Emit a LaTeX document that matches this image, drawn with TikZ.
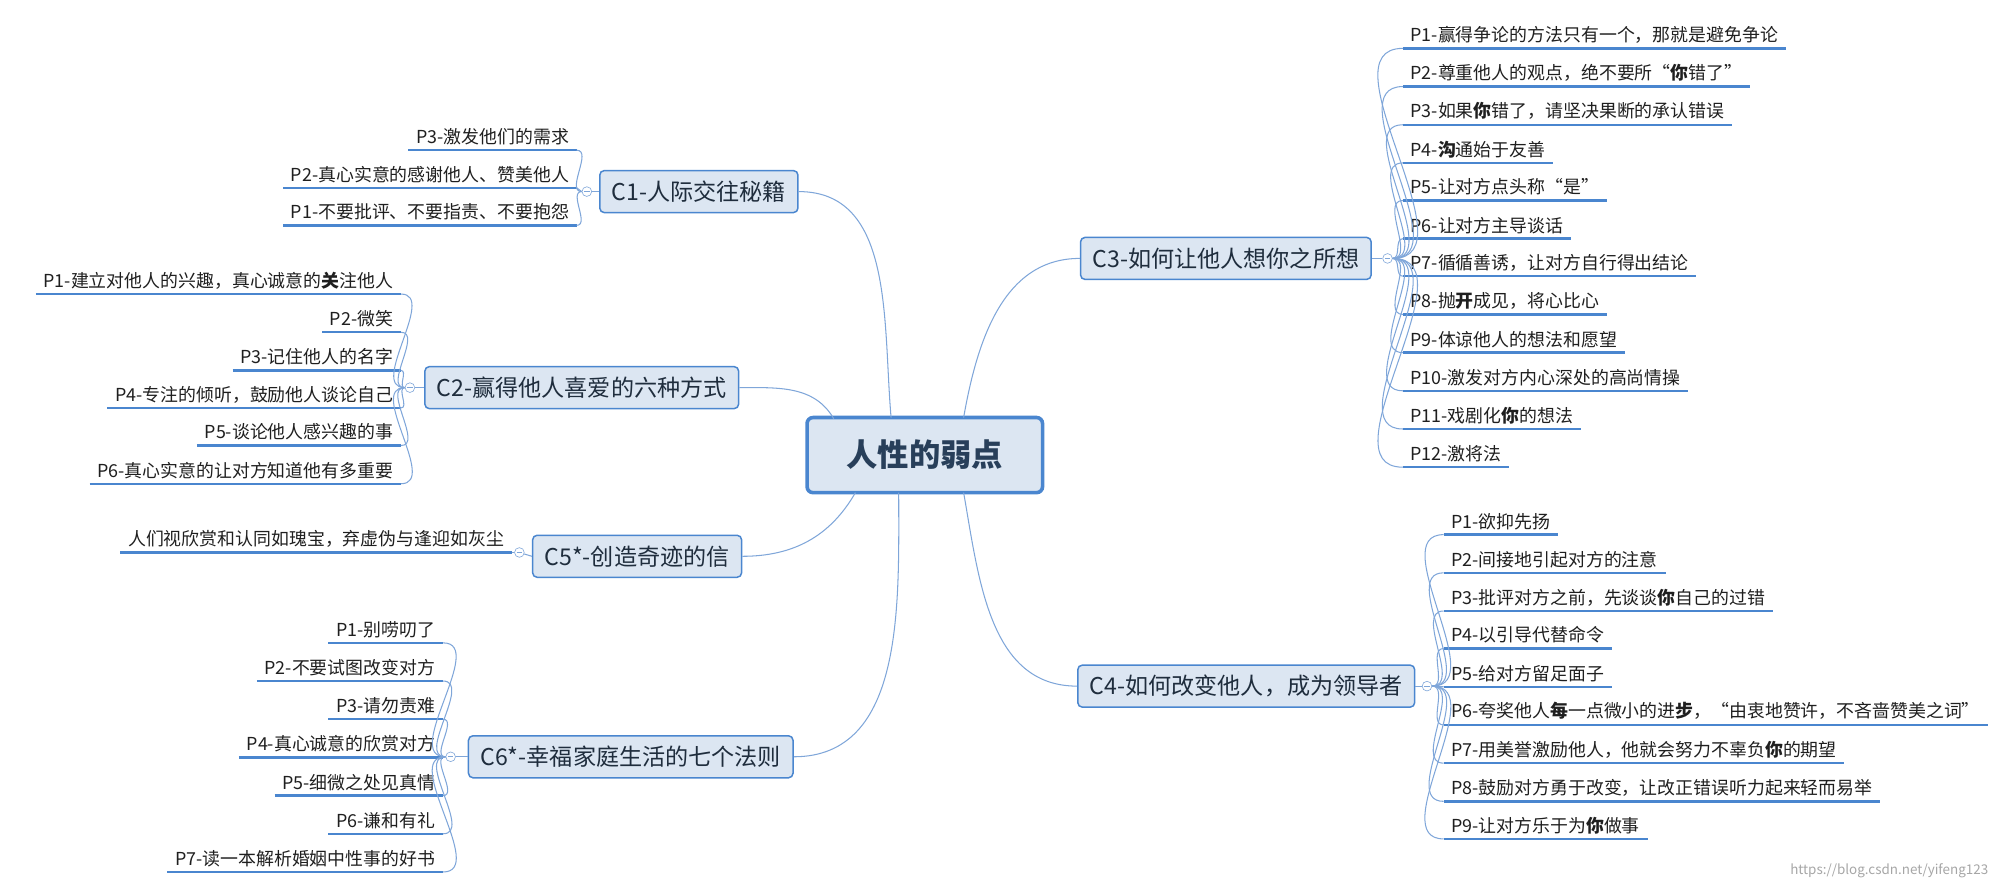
\documentclass[tikz,border=0pt]{standalone}
\usepackage{fontspec}
\setmainfont{Noto Sans CJK SC}
\usetikzlibrary{positioning}
\definecolor{mmline}{HTML}{4A86CF}
\definecolor{mmthin}{HTML}{7FA6D9}
\definecolor{mmfill}{HTML}{DCE6F2}
\definecolor{mmtext}{HTML}{1F2D3D}
\tikzset{
  root/.style={draw=mmline, line width=2.4pt, fill=mmfill, rounded corners=4pt,
    minimum width=185*0.03cm, minimum height=59*0.03cm, font=\fontsize{21}{24}\selectfont\bfseries, text=mmtext!80!mmline},
  topic/.style={draw=mmline, line width=1pt, fill=mmfill, rounded corners=3pt,
    minimum height=33*0.03cm, inner xsep=8pt, font=\fontsize{15.5}{18}\selectfont, text=mmtext},
  leaf/.style={inner xsep=5pt, inner ysep=3.2pt, font=\fontsize{12}{14}\selectfont, text=black!88,
    append after command={(\tikzlastnode.south west) edge[uline] (\tikzlastnode.south east)}},
  uline/.style={draw=mmline, line width=1.6pt},
  fold/.style={circle, draw=mmthin, fill=white, inner sep=0pt, minimum size=6.5pt,
    path picture={\draw[mmthin] (-1.8pt,0) -- (1.8pt,0);}},
  link/.style={draw=mmthin, line width=0.7pt}
}
\begin{document}
\begin{tikzpicture}[x=0.03cm, y=-0.03cm]
            \useasboundingbox (0,0) rectangle (1568,697);
            % Root
            \node[root] (root) at (726.5,357.5) {人性的弱点};

            % Topics
            \node[topic] (c1) at (549,150.5) {C1-人际交往秘籍};
            \node[topic] (c2) at (457,304.5) {C2-赢得他人喜爱的六种方式};
            \node[topic] (c5) at (500.5,437) {C5*-创造奇迹的信};
            \node[topic] (c6) at (495.5,594.5) {C6*-幸福家庭生活的七个法则};
            \node[topic] (c3) at (963,203) {C3-如何让他人想你之所想};
            \node[topic] (c4) at (979,539) {C4-如何改变他人，成为领导者};

            % Root to topics
            \draw[link] (c1.east) to[out=0,in=95] (700,328);
            \draw[link] (c2.east) to[out=0,in=120] (655,329);
            \draw[link] (c5.east) to[out=0,in=-120] (672,387);
            \draw[link] (c6.east) to[out=0,in=-90] (706,387);
            \draw[link] (c3.west) to[out=180,in=80] (757,328);
            \draw[link] (c4.west) to[out=180,in=-80] (757,387);

            % Fold markers
            \node[fold] (f1) at (461,150.5) {};
            \node[fold] (f2) at (322,304.5) {};
            \node[fold] (f5) at (408,434) {};
            \node[fold] (f6) at (354,594.5) {};
            \node[fold] (f3) at (1090,203) {};
            \node[fold] (f4) at (1121,539) {};
            \draw[link] (c1.west) -- (f1);
            \draw[link] (c2.west) -- (f2);
            \draw[link] (c5.west) -- (f5);
            \draw[link] (c6.west) -- (f6);
            \draw[link] (c3.east) -- (f3);
            \draw[link] (c4.east) -- (f4);

            % C1 leaves
            \node[leaf, anchor=south east] (c1p3) at (453,118) {P3-激发他们的需求};
            \node[leaf, anchor=south east] (c1p2) at (453,147.5) {P2-真心实意的感谢他人、赞美他人};
            \node[leaf, anchor=south east] (c1p1) at (453,177) {P1-不要批评、不要指责、不要抱怨};

            % C2 leaves
            \node[leaf, anchor=south east] (c2p1) at (315,231) {P1-建立对他人的兴趣，真心诚意的\textbf{关}注他人};
            \node[leaf, anchor=south east] (c2p2) at (315,261) {P2-微笑};
            \node[leaf, anchor=south east] (c2p3) at (315,291) {P3-记住他人的名字};
            \node[leaf, anchor=south east] (c2p4) at (315,320.5) {P4-专注的倾听，鼓励他人谈论自己};
            \node[leaf, anchor=south east] (c2p5) at (315,350) {P5-谈论他人感兴趣的事};
            \node[leaf, anchor=south east] (c2p6) at (315,380) {P6-真心实意的让对方知道他有多重要};

            % C5 leaf
            \node[leaf, anchor=south east] (c5p1) at (402,434) {人们视欣赏和认同如瑰宝，弃虚伪与逢迎如灰尘};

            % C6 leaves
            \node[leaf, anchor=south east] (c6p1) at (348,505) {P1-别唠叨了};
            \node[leaf, anchor=south east] (c6p2) at (348,535) {P2-不要试图改变对方};
            \node[leaf, anchor=south east] (c6p3) at (348,565) {P3-请勿责难};
            \node[leaf, anchor=south east] (c6p4) at (348,595) {P4-真心诚意的欣赏对方};
            \node[leaf, anchor=south east] (c6p5) at (348,625) {P5-细微之处见真情};
            \node[leaf, anchor=south east] (c6p6) at (348,655) {P6-谦和有礼};
            \node[leaf, anchor=south east] (c6p7) at (348,685) {P7-读一本解析婚姻中性事的好书};

            % C3 leaves
            \node[leaf, anchor=south west] (c3p1) at (1102,38) {P1-赢得争论的方法只有一个，那就是避免争论};
            \node[leaf, anchor=south west] (c3p2) at (1102,68) {P2-尊重他人的观点，绝不要所“\textbf{你}错了”};
            \node[leaf, anchor=south west] (c3p3) at (1102,98) {P3-如果\textbf{你}错了，请坚决果断的承认错误};
            \node[leaf, anchor=south west] (c3p4) at (1102,128) {P4-\textbf{沟}通始于友善};
            \node[leaf, anchor=south west] (c3p5) at (1102,157.5) {P5-让对方点头称“是”};
            \node[leaf, anchor=south west] (c3p6) at (1102,187.5) {P6-让对方主导谈话};
            \node[leaf, anchor=south west] (c3p7) at (1102,217) {P7-循循善诱，让对方自行得出结论};
            \node[leaf, anchor=south west] (c3p8) at (1102,247) {P8-抛\textbf{开}成见，将心比心};
            \node[leaf, anchor=south west] (c3p9) at (1102,277) {P9-体谅他人的想法和愿望};
            \node[leaf, anchor=south west] (c3p10) at (1102,307) {P10-激发对方内心深处的高尚情操};
            \node[leaf, anchor=south west] (c3p11) at (1102,337) {P11-戏剧化\textbf{你}的想法};
            \node[leaf, anchor=south west] (c3p12) at (1102,367) {P12-激将法};

            % C4 leaves
            \node[leaf, anchor=south west] (c4p1) at (1134,420) {P1-欲抑先扬};
            \node[leaf, anchor=south west] (c4p2) at (1134,450) {P2-间接地引起对方的注意};
            \node[leaf, anchor=south west] (c4p3) at (1134,480) {P3-批评对方之前，先谈谈\textbf{你}自己的过错};
            \node[leaf, anchor=south west] (c4p4) at (1134,509.5) {P4-以引导代替命令};
            \node[leaf, anchor=south west] (c4p5) at (1134,539.5) {P5-给对方留足面子};
            \node[leaf, anchor=south west] (c4p6) at (1134,569.5) {P6-夸奖他人\textbf{每}一点微小的进\textbf{步}，“由衷地赞许，不吝啬赞美之词”};
            \node[leaf, anchor=south west] (c4p7) at (1134,599.5) {P7-用美誉激励他人，他就会努力不辜负\textbf{你}的期望};
            \node[leaf, anchor=south west] (c4p8) at (1134,629.5) {P8-鼓励对方勇于改变，让改正错误听力起来轻而易举};
            \node[leaf, anchor=south west] (c4p9) at (1134,659) {P9-让对方乐于为\textbf{你}做事};

            % Fold to leaves
            \foreach \p in {c1p1,c1p2,c1p3} \draw[link] (f1) to[out=180,in=0] (\p.south east);
            \foreach \p in {c2p1,c2p2,c2p3,c2p4,c2p5,c2p6} \draw[link] (f2) to[out=180,in=0] (\p.south east);
            \draw[link] (f5) -- (c5p1.south east);
            \foreach \p in {c6p1,c6p2,c6p3,c6p4,c6p5,c6p6,c6p7} \draw[link] (f6) to[out=180,in=0] (\p.south east);
            \foreach \p in {c3p1,c3p2,c3p3,c3p4,c3p5,c3p6,c3p7,c3p8,c3p9,c3p10,c3p11,c3p12} \draw[link] (f3) to[out=0,in=180] (\p.south west);
            \foreach \p in {c4p1,c4p2,c4p3,c4p4,c4p5,c4p6,c4p7,c4p8,c4p9} \draw[link] (f4) to[out=0,in=180] (\p.south west);

            % Watermark
            \node[anchor=south east, text=black!35, font=\fontsize{9}{10}\selectfont] (mark) at (1566,694) {https://blog.csdn.net/yifeng123};
        \end{tikzpicture}
\end{document}
